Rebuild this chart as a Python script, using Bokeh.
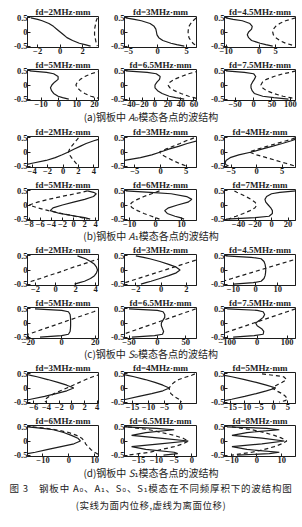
from bokeh.plotting import figure
from bokeh.models import Range1d, FixedTicker, Div, Spacer
from bokeh.layouts import column, row
from bokeh.embed import file_html
from bokeh.resources import INLINE

# thickness coordinate (y) common to every panel
Y = [0.5, 0.45, 0.4, 0.3, 0.2, 0.1, 0.0, -0.1, -0.2, -0.3, -0.4, -0.45, -0.5]
Y_TICKS = [-0.5, 0, 0.5]

# ---------------- (a) A0 mode ----------------
a_fd = ["2", "3", "4.5", "5", "6.5", "7.5"]
a_xlim = [(-2.9, 3.4), (-5.7, 6.7), (-10.5, 11), (-17.7, 22.2), (-47, 64), (-79, 114)]
a_ticks = [[-2, 0, 2], [-5, 0, 5], [-10, 0, 5], [-10, 0, 10, 20], [-40, -20, 0, 20, 40, 60], [-50, 0, 50, 100]]
a1_solid = [-2.6, -2.0, -1.6, -1.0, -0.6, -0.3, 0.0, 0.3, 0.6, 1.1, 1.7, 2.2, 2.7]
a2_solid = [-5.5, -4.0, -2.8, -1.3, -0.6, -0.3, -0.2, -0.1, 0.2, 0.9, 2.3, 3.3, 4.6]
a3_solid = [-10.1, -7.9, -5.1, -2.8, -2.1, -2.3, -3.2, -3.6, -3.2, -2.3, 0.3, 2.0, 4.1]
a4_solid = [-16.5, -7, -3, -0.5, -0.5, -2.5, -4, -4.8, -4.2, -3, -0.5, 2.0, 5.5]
a5_solid = [-45, -12, 2, 8, 7, 3, 0, 0, 4, 11, 22, 32, 45]
a6_solid = [-75, -25, 0, 6, 2, -3, -7, -7, -4, 2, 25, 55, 95]
a1_dashed = [3.3, 3.25, 3.2, 3.15, 3.1, 3.05, 3.05, 3.05, 3.1, 3.15, 3.2, 3.25, 3.3]
a2_dashed = [6.6, 6.4, 6.1, 5.7, 5.4, 5.3, 5.25, 5.3, 5.4, 5.7, 6.1, 6.4, 6.6]
a3_dashed = [11, 9.5, 8.0, 6.2, 5.0, 4.3, 4.1, 4.3, 5.0, 6.2, 8.0, 9.5, 11]
a4_dashed = [24, 21, 18, 14.5, 12, 10.3, 9.5, 10.3, 12, 14.5, 18, 21, 24]
a5_dashed = [68, 60, 52, 40, 30, 23, 20, 23, 30, 40, 52, 60, 68]
a6_dashed = [115, 100, 80, 55, 35, 24, 20, 24, 35, 55, 80, 100, 115]

# ---------------- (b) A1 mode ----------------
b_fd = ["2", "3", "4", "5", "6", "7"]
b_xlim = [(-4.6, 4.6), (-7, 7), (-6.3, 7.6), (-8.3, 4.5), (-12, 15.8), (-57, 29)]
b_ticks = [[-4, -2, 0, 2, 4], [-5, 0, 5], [-5, 0, 5], [-8, -6, -4, -2, 0, 2, 4], [-10, 0, 10], [-40, -20, 0, 20]]
b1_solid = [5.0, 4.6, 4.0, 3.0, 2.2, 1.4, 0.7, -0.1, -1.0, -2.2, -4.0, -4.8, -5.5]
b2_solid = [9.5, 8.3, 7.2, 5.2, 3.5, 1.6, 0.0, -1.7, -3.9, -7.0, -10, -11.5, -13]
b3_solid = [7.6, 7.5, 6.8, 5.0, 3.0, 1.0, -1.0, -3.5, -5.2, -6.0, -6.2, -6.0, -5.5]
b4_solid = [2.5, 3.6, 4.1, 3.6, 2.0, 0.0, -2.0, -3.7, -4.2, -2.5, 0.5, 2.0, 3.0]
b5_solid = [-11.5, -2, 6, 12, 14, 12.5, 8.5, 5, 3.5, 4.5, 7.5, 9.5, 11]
b6_solid = [30, 10, 0, -6, -8, -7, -4, -1, 1, 1, -3, -20, -55]
b1_dashed = [2.0, 1.85, 1.7, 1.4, 1.1, 0.85, 0.7, 0.85, 1.1, 1.4, 1.7, 1.85, 2.0]
b2_dashed = [6.5, 5.8, 5.0, 3.8, 2.4, 1.0, -0.2, 0.3, 1.3, 2.4, 3.6, 4.3, 5.0]
b3_dashed = [7.5, 6.8, 5.8, 3.9, 2.0, 0.2, -1.5, 0.0, 1.9, 3.8, 5.7, 6.6, 7.5]
b4_dashed = [2.5, 1.5, 0.3, -2.2, -4.5, -6.5, -8.0, -6.5, -4.5, -2.2, 0.3, 1.5, 2.5]
b5_dashed = [1.5, 0, -1.5, -4.5, -7, -9, -10, -9, -7, -4.5, -1.5, 0, 1.5]
b6_dashed = [-45, -42, -38, -31, -25, -20, -18, -20, -26, -34, -43, -48, -52]

# ---------------- (c) S0 mode ----------------
c_fd = ["2", "3", "4.5", "5", "6.5", "7.5"]
c_xlim = [(-2.8, 4.3), (-2.9, 2.8), (-14, 18), (-20.5, 22), (-58, 69), (-109, 128)]
c_ticks = [[-2, 0, 2, 4], [-2, 0, 2], [-10, 0, 10], [-20, 0, 20], [-50, 0, 50], [-100, 0, 100]]
c1_solid = [2.2, 2.6, 3.0, 3.5, 3.9, 4.1, 4.2, 4.1, 3.9, 3.5, 2.9, 2.4, 1.9]
c2_solid = [-2.0, -1.4, -0.9, -0.1, 0.6, 1.2, 1.5, 1.2, 0.6, -0.1, -0.8, -1.2, -1.6]
c3_solid = [-13.5, -2, 2.5, 3.8, 4.3, 4.5, 4.6, 4.5, 4.3, 3.8, 2.5, -1, -10]
c4_solid = [-16, 0, 4, 5, 5.2, 5.3, 5.3, 5.3, 5.2, 5, 4, 0, -13]
c5_solid = [-50, 0, 10, 13, 13, 10, 7, 7, 9, 11, 9, -5, -45]
c6_solid = [-100, 0, 20, 25, 20, 8, -5, 0, 15, 22, 20, -10, -80]
c1_dashed = [5.2, 4.8, 4.4, 3.5, 2.7, 1.8, 1.0, 0.2, -0.7, -1.5, -2.4, -2.8, -3.2]
c2_dashed = [3.8, 3.45, 3.1, 2.4, 1.7, 1.0, 0.3, -0.4, -1.1, -1.8, -2.5, -2.85, -3.2]
c3_dashed = [23, 20.9, 18.8, 14.6, 10.4, 6.2, 2.0, -2.2, -6.4, -10.6, -14.8, -16.9, -19]
c4_dashed = [24, 21.5, 19.1, 14.2, 9.3, 4.4, -0.5, -5.4, -10.3, -15.2, -20.1, -22.5, -25]
c5_dashed = [67.5, 60.4, 53.3, 39.1, 24.9, 10.7, -3.5, -17.7, -31.9, -46.1, -60.3, -67.4, -74.5]
c6_dashed = [128, 114, 100, 72, 44, 17, -11, -39, -67, -95, -123, -137, -151]

# ---------------- (d) S1 mode ----------------
d_fd = ["3", "4", "5", "6", "6.5", "8"]
d_xlim = [(-7, 4.2), (-17.5, 5), (-17, 7.6), (-16, 11.5), (-19, 1.3), (-13, 15.5)]
d_ticks = [[-6, -4, -2, 0, 2, 4], [-15, -10, -5, 0], [-15, -10, -5, 0, 5], [-10, 0, 10], [-15, -10, -5, 0], [-10, 0, 10]]
d1_solid = [-7.5, -6.5, -5.5, -3.8, -2.2, -0.8, 0.3, -0.8, -2.5, -4.3, -6.5, -7.5, -8]
d2_solid = [-19, -16.5, -14.5, -11, -8, -5.5, -3.5, -5.5, -9, -13, -17, -19, -20]
d3_solid = [-20, -17, -14.5, -10, -6, -2.5, 0.8, -2.5, -6, -10, -14.5, -17, -20]
d4_solid = [-16, -10, -6, -2, 1, 3.5, 4.5, 2, -3, -8, -13, -16, -18]
d5_solid = [-19, -10, -5, -13, -17, -9, -1, -9, -17, -13, -5, -4, -8]
d6_solid = [-12, 4, 9, -4, -10, 2, 11, 2, -10, -4, 9, 5, -8]
d1_dashed = [4.5, 4.0, 3.3, 2.2, 1.2, 0.2, -0.8, -1.8, -2.8, -3.6, -4.2, -4.3, -4.1]
d2_dashed = [4.5, 3.5, 2.0, -0.5, -2.0, -3.0, -3.5, -3.5, -3.0, -2.0, -0.5, 0.0, 0.3]
d3_dashed = [-4, 0, 3.5, 4.5, 3, 1, -0.5, 1, 3, 4.2, 4.8, 4, 2]
d4_dashed = [-14, -9, -5, 0, 3, 5, 6, 6.5, 7.5, 8.5, 10, 11, 12]
d5_dashed = [-18, -15, -12, -8.5, -5, -2.5, -1, -2.5, -5, -8.5, -12, -15, -18]
d6_dashed = [-10, -6, -2, 3, 7, 10, 12, 10, 7, 3, -2, -6, -10]

captions = [
    "(a)钢板中 <i>A</i>₀模态各点的波结构",
    "(b)钢板中 <i>A</i>₁模态各点的波结构",
    "(c)钢板中 <i>S</i>₀模态各点的波结构",
    "(d)钢板中 <i>S</i>₁模态各点的波结构",
]
fig_caption_1 = "图 3　钢板中 A₀、A₁、S₀、S₁模态在不同频厚积下的波结构图"
fig_caption_2 = "(实线为面内位移,虚线为离面位移)"

groups = [
    (a_fd, a_xlim, a_ticks,
     [a1_solid, a2_solid, a3_solid, a4_solid, a5_solid, a6_solid],
     [a1_dashed, a2_dashed, a3_dashed, a4_dashed, a5_dashed, a6_dashed]),
    (b_fd, b_xlim, b_ticks,
     [b1_solid, b2_solid, b3_solid, b4_solid, b5_solid, b6_solid],
     [b1_dashed, b2_dashed, b3_dashed, b4_dashed, b5_dashed, b6_dashed]),
    (c_fd, c_xlim, c_ticks,
     [c1_solid, c2_solid, c3_solid, c4_solid, c5_solid, c6_solid],
     [c1_dashed, c2_dashed, c3_dashed, c4_dashed, c5_dashed, c6_dashed]),
    (d_fd, d_xlim, d_ticks,
     [d1_solid, d2_solid, d3_solid, d4_solid, d5_solid, d6_solid],
     [d1_dashed, d2_dashed, d3_dashed, d4_dashed, d5_dashed, d6_dashed]),
]

# ---------------- styling / layout ----------------
INK = "#1c1c1c"
SERIF = "Liberation Serif"
CJK = "'Noto Sans CJK SC', 'DejaVu Sans', 'Liberation Serif', serif"
ML = [27, 24, 24]
FW = [71, 72, 71]
MR = [2, 4, 7]
FH = 31
TOP = 10
BOTTOM = 10


def panel(fd, xlim, ticks, solid, dashed, col):
    p = figure(title=f"fd={fd}MHz·mm", frame_width=FW[col], frame_height=FH,
               x_range=Range1d(*xlim), y_range=Range1d(-0.55, 0.55),
               output_backend="svg", toolbar_location=None,
               min_border_left=ML[col], min_border_right=MR[col],
               min_border_top=TOP, min_border_bottom=BOTTOM,
               background_fill_color="white", border_fill_color="white")
    p.title.text_font = SERIF
    p.title.text_font_size = "9px"
    p.title.text_font_style = "bold"
    p.title.text_color = INK
    p.title.align = "center"
    p.title.standoff = 0
    p.line(x=solid, y=Y, line_color=INK, line_width=1.2)
    p.line(x=dashed, y=Y, line_color=INK, line_width=1.2, line_dash="4 3")
    p.xgrid.visible = False
    p.ygrid.visible = False
    p.xaxis.ticker = FixedTicker(ticks=ticks)
    p.yaxis.ticker = FixedTicker(ticks=Y_TICKS)
    p.yaxis.major_label_overrides = {-0.5: "-0.5", 0: "0", 0.5: "0.5"}
    for ax in (p.xaxis[0], p.yaxis[0]):
        ax.major_tick_in = 3
        ax.major_tick_out = 0
        ax.minor_tick_in = 0
        ax.minor_tick_out = 0
        ax.major_label_standoff = 0
        ax.major_label_text_font = SERIF
        ax.major_label_text_font_size = "8.5px"
        ax.major_label_text_font_style = "bold"
        ax.major_label_text_color = INK
        ax.axis_line_color = INK
        ax.major_tick_line_color = INK
    p.outline_line_color = INK
    p.outline_line_alpha = 1.0
    p.outline_line_width = 1
    return p


def caption_div(html, height, size="10px", spacing="0px"):
    return Div(text=html, width=302, height=height, margin=(0, 0, 0, 0),
               styles={"font-family": CJK, "font-size": size, "text-align": "center",
                       "color": INK, "letter-spacing": spacing,
                       "line-height": f"{height}px", "white-space": "nowrap"})


items = [Spacer(width=302, height=4)]
cap_heights = [14, 12, 12, 13]
for g, (fds, xlims, tks, solids, dasheds) in enumerate(groups):
    for r in range(2):
        figs = []
        for c in range(3):
            k = r * 3 + c
            figs.append(panel(fds[k], xlims[k], tks[k], solids[k], dasheds[k], c))
        items.append(row(*figs))
    items.append(caption_div(captions[g], cap_heights[g]))
items.append(caption_div(fig_caption_1, 18, "9.5px", "0.8px"))
items.append(caption_div(fig_caption_2, 16, "9.5px", "0.5px"))

layout = column(*items)
open("out.html", "w").write(file_html(layout, INLINE))
